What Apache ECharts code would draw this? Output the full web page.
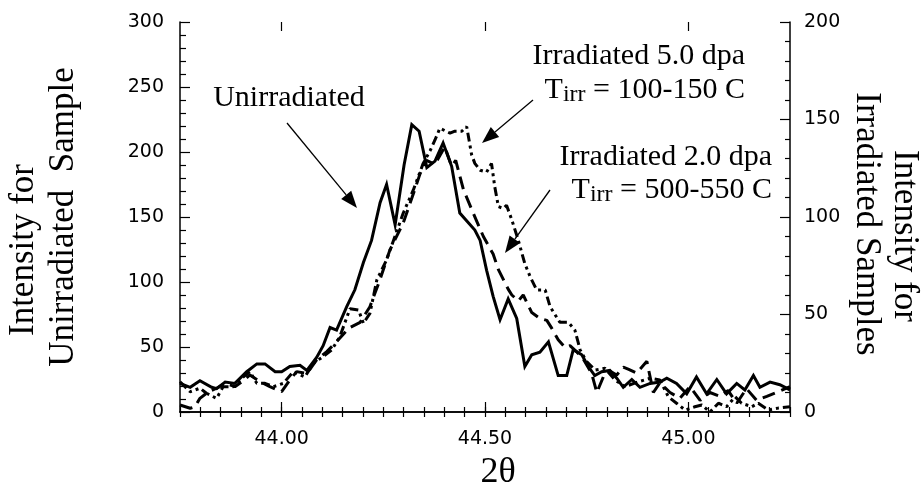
<!DOCTYPE html>
<html><head><meta charset="utf-8">
<script src="https://cdn.jsdelivr.net/npm/echarts@6/dist/echarts.min.js"></script>
<style>html,body{margin:0;padding:0;background:#fff}#c{width:922px;height:492px}</style>
</head><body><div id="c"></div>
<script>
// ---- data (2-theta in degrees, intensities) ----
const unirrX = [43.750,43.775,43.799,43.828,43.840,43.861,43.885,43.914,43.939,43.959,43.984,44.000,44.020,44.045,44.062,44.086,44.102,44.119,44.135,44.160,44.180,44.201,44.221,44.242,44.258,44.279,44.301,44.320,44.338,44.357,44.377,44.397,44.418,44.438,44.475,44.488,44.504,44.520,44.537,44.557,44.578,44.598,44.615,44.635,44.656,44.680,44.701,44.717,44.738,44.754,44.770,44.787,44.807,44.824,44.840,44.861,44.881,44.906,44.930,44.947,44.971,44.996,45.020,45.045,45.070,45.094,45.119,45.139,45.160,45.176,45.201,45.225,45.250];
const unirrY = [22,19,24,19,18,23,22,31,37,37,31,31,35,36,32,42,51,65,63,81,94,115,132,161,175,144,190,221,216,188,193,207,189,153,140,132,109,89,71,87,72,35,44,46,54,28,28,48,44,35,28,31,32,26,19,25,19,22,23,26,22,14,27,14,25,14,22,17,28,19,23,21,17];

const irr2X = [43.750,43.775,43.787,43.799,43.820,43.840,43.861,43.885,43.902,43.922,43.947,43.971,44.000,44.020,44.037,44.062,44.086,44.111,44.135,44.165,44.193,44.217,44.242,44.266,44.299,44.324,44.340,44.356,44.377,44.401,44.418,44.428,44.447,44.471,44.496,44.520,44.533,44.545,44.557,44.566,44.582,44.594,44.615,44.635,44.652,44.664,44.680,44.697,44.709,44.725,44.742,44.762,44.775,44.791,44.807,44.824,44.840,44.852,44.873,44.898,44.914,44.930,44.955,44.979,45.004,45.029,45.053,45.078,45.098,45.119,45.143,45.168,45.193,45.217,45.250];
const irr2Y = [3.6,1.9,2.7,7,10.4,12.2,14.7,13,15.5,19,15.5,13,10.4,16.4,20.7,19.8,26.7,31,36,43,46,54,68,83,97,112,122,129,127,136,126,129,114,102,90,81,73,68,63,60,57,60,51,48,47,43,37,33,34,31,27,20,10,18,21,19,23,22,20,26,10,15,10,7,13,6,10,8,11,4.5,12,6,8,10,13];

const irr5X = [43.750,43.775,43.799,43.815,43.840,43.856,43.881,43.902,43.922,43.939,43.959,43.980,44.004,44.029,44.057,44.078,44.102,44.123,44.143,44.168,44.189,44.201,44.217,44.234,44.258,44.275,44.299,44.324,44.348,44.365,44.377,44.389,44.414,44.426,44.443,44.455,44.467,44.475,44.488,44.504,44.516,44.524,44.533,44.545,44.553,44.566,44.582,44.598,44.611,44.627,44.648,44.660,44.684,44.705,44.721,44.734,44.750,44.771,44.795,44.820,44.844,44.877,44.906,44.930,44.951,44.971,44.992,45.016,45.033,45.053,45.074,45.094,45.115,45.131,45.156,45.172,45.197,45.221,45.250];
const irr5Y = [15.5,10.4,12.2,9.6,7,13,13,17.3,20.7,14.7,14.7,13,14.7,20.7,18,25,28.4,31.8,38.6,53,52.3,45.5,50.6,67.7,78,88,102,114,127.5,134,139.5,145.5,143,144,144,146.3,132,127.5,124,123,127.5,115.5,105.3,104.4,106,98.5,88,76,69.4,62.6,62.6,54,46,46,42,31.8,25.8,21.5,22.4,16.4,13,15.5,17.3,16.4,7.8,4.5,1,2.7,3.6,0,4.5,2.7,7.8,4.5,2.7,4.5,1,2,2.7];

const xLabelValues = [44.00, 44.50, 45.00];
const leftRange = [0, 300];
const rightRange = [0, 200];

const zip = (xs, ys) => xs.map((x, i) => [x, ys[i]]);

const chart = echarts.init(document.getElementById('c'), null, {renderer: 'canvas'});
const BLACK = '#000';
const lab = {fontFamily: 'DejaVu Sans', fontSize: 19, color: BLACK};
const serif = '"Liberation Serif", "Times New Roman", serif';
const line = {show: true, lineStyle: {color: BLACK, width: 1.5}};
const tickStyle = {color: BLACK, width: 1.2};

function arrow(x1, y1, x2, y2) {
  const dx = x2 - x1, dy = y2 - y1, L = Math.hypot(dx, dy);
  const ux = dx / L, uy = dy / L, hl = 17, hw = 6.5;
  const bx = x2 - ux * hl, by = y2 - uy * hl;
  return [
    {type: 'line', shape: {x1, y1, x2: bx, y2: by}, style: {stroke: BLACK, lineWidth: 1.3}},
    {type: 'polygon', shape: {points: [[x2, y2], [bx - uy * hw, by + ux * hw], [bx + uy * hw, by - ux * hw]]}, style: {fill: BLACK}}
  ];
}
function txt(text, x, y, size, align, rot, rich) {
  const o = {type: 'text', x, y, rotation: rot || 0, style: {text, fontSize: size, fontFamily: serif, fill: BLACK, textAlign: align || 'center', textVerticalAlign: 'middle'}};
  if (rich) o.style.rich = rich;
  return o;
}
const subRich = {s: {fontSize: 24, fontFamily: serif, fill: BLACK, padding: [10, 0, 0, 0]}};

const option = {
  animation: false,
  backgroundColor: '#fff',
  grid: [
    {left: 180, right: 132, top: 22, bottom: 80, containLabel: false},
    {left: 180, right: 132, top: 22, bottom: 80, containLabel: false}
  ],
  xAxis: [
    {type: 'value', gridIndex: 0, position: 'bottom', min: 43.75, max: 45.25, interval: 0.05,
     axisLine: line, axisTick: {show: true, inside: true, length: 5, lineStyle: tickStyle},
     axisLabel: Object.assign({customValues: xLabelValues, margin: 18, formatter: v => v.toFixed(2)}, lab),
     splitLine: {show: false}},
    {type: 'value', gridIndex: 0, position: 'top', min: 43.75, max: 45.25, interval: 0.05,
     axisLine: line, axisTick: {show: true, inside: true, length: 5, lineStyle: tickStyle},
     axisLabel: {show: false}, splitLine: {show: false}},
    {type: 'value', gridIndex: 1, position: 'bottom', min: 43.75, max: 45.25,
     axisLine: {show: false}, axisTick: {show: true, inside: true, length: 10, customValues: xLabelValues, lineStyle: tickStyle},
     axisLabel: {show: false}, splitLine: {show: false}},
    {type: 'value', gridIndex: 1, position: 'top', min: 43.75, max: 45.25,
     axisLine: {show: false}, axisTick: {show: true, inside: true, length: 9, customValues: xLabelValues, lineStyle: tickStyle},
     axisLabel: {show: false}, splitLine: {show: false}}
  ],
  yAxis: [
    {type: 'value', gridIndex: 0, position: 'left', min: leftRange[0], max: leftRange[1], interval: 50,
     axisLine: line, axisTick: {show: true, inside: true, length: 10, lineStyle: tickStyle},
     minorTick: {show: true, splitNumber: 5, length: 6, lineStyle: tickStyle},
     axisLabel: Object.assign({margin: 16}, lab), splitLine: {show: false}},
    {type: 'value', gridIndex: 0, position: 'right', min: rightRange[0], max: rightRange[1], interval: 50,
     axisLine: line, axisTick: {show: true, inside: true, length: 10, lineStyle: tickStyle},
     minorTick: {show: true, splitNumber: 5, length: 5, lineStyle: tickStyle},
     axisLabel: Object.assign({margin: 14}, lab), splitLine: {show: false}},
    {type: 'value', gridIndex: 1, show: false, min: 0, max: 300}
  ],
  series: [
    {name: 'Irradiated 5.0 dpa', type: 'line', xAxisIndex: 0, yAxisIndex: 1, data: zip(irr5X, irr5Y),
     symbol: 'none', lineStyle: {color: BLACK, width: 3, type: [9, 4, 3, 4, 3, 4], cap: 'butt'}},
    {name: 'Irradiated 2.0 dpa', type: 'line', xAxisIndex: 0, yAxisIndex: 1, data: zip(irr2X, irr2Y),
     symbol: 'none', lineStyle: {color: BLACK, width: 3, type: [13, 7], cap: 'butt'}},
    {name: 'Unirradiated', type: 'line', xAxisIndex: 0, yAxisIndex: 0, data: zip(unirrX, unirrY),
     symbol: 'none', lineStyle: {color: BLACK, width: 3, join: 'miter'}}
  ],
  graphic: [
    txt('Intensity for', 24, 250, 35, 'center', Math.PI / 2),
    txt('Unirradiated  Sample', 64, 217, 35, 'center', Math.PI / 2),
    txt('Intensity for', 904, 236, 35, 'center', -Math.PI / 2),
    txt('Irradiated Samples', 866, 224, 35, 'center', -Math.PI / 2),
    txt('2θ', 498, 473, 36, 'center'),
    txt('Unirradiated', 289, 98, 30, 'center'),
    txt('Irradiated 5.0 dpa', 745, 56, 30, 'right'),
    txt('T{s|irr} = 100-150 C', 745, 90, 30, 'right', 0, subRich),
    txt('Irradiated 2.0 dpa', 772, 157, 30, 'right'),
    txt('T{s|irr} = 500-550 C', 772, 190, 30, 'right', 0, subRich),
    ...arrow(287, 123, 357, 208),
    ...arrow(533, 100, 482, 143),
    ...arrow(550, 190, 505, 253)
  ]
};
chart.setOption(option);
</script>
</body></html>
